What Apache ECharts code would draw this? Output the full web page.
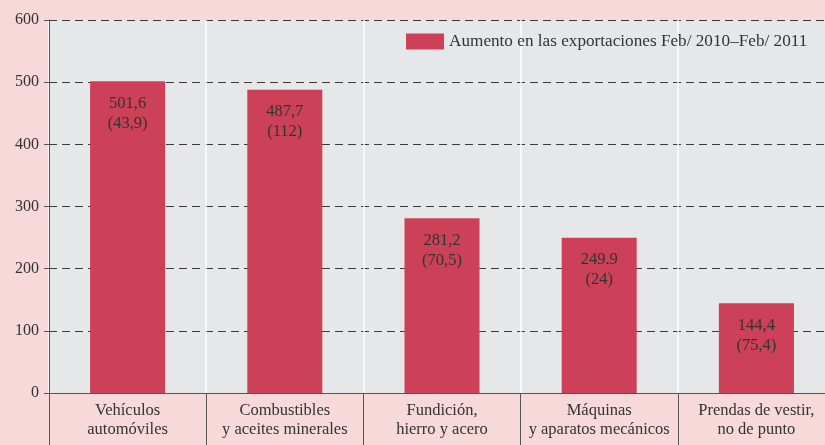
<!DOCTYPE html>
<html>
<head>
<meta charset="utf-8">
<script src="https://cdn.jsdelivr.net/npm/echarts@6/dist/echarts.min.js"></script>
<style>
html,body{margin:0;padding:0;background:#f6d9d8;}
#c{width:825px;height:445px;}
</style>
</head>
<body>
<div id="c"></div>
<script>
const categories = ['Vehículos\nautomóviles', 'Combustibles\ny aceites minerales', 'Fundición,\nhierro y acero', 'Máquinas\ny aparatos mecánicos', 'Prendas de vestir,\nno de punto'];
const values = [501.6, 487.7, 281.2, 249.9, 144.4];
const valueLabels = ['501,6', '487,7', '281,2', '249.9', '144,4'];
const pctLabels = ['(43,9)', '(112)', '(70,5)', '(24)', '(75,4)'];
const seriesName = 'Aumento en las exportaciones Feb/ 2010–Feb/ 2011';
const yTicks = [0, 100, 200, 300, 400, 500, 600];

const font = 'Liberation Serif';
const chart = echarts.init(document.getElementById('c'));
chart.setOption({
  backgroundColor: '#f6d9d8',
  animation: false,
  textStyle: {fontFamily: font},
  grid: {left: 49, right: -10, top: 20, bottom: 52, outerBoundsMode: 'none', containLabel: false, show: true, backgroundColor: '#e6e7e9', borderWidth: 0},
  legend: {
    show: true, left: 406, top: 33, padding: 0, itemWidth: 38, itemHeight: 16, itemGap: 5, icon: 'rect',
    textStyle: {fontFamily: font, fontSize: 17.2, color: '#333'},
    data: [seriesName]
  },
  xAxis: {
    type: 'category', data: categories, boundaryGap: true,
    axisLine: {show: true, lineStyle: {color: '#555', width: 1}},
    axisTick: {show: true, length: 52, lineStyle: {color: '#555', width: 1}},
    splitLine: {show: true, lineStyle: {color: '#ffffff', width: 1.5}},
    axisLabel: {fontFamily: font, fontSize: 16.5, color: '#333', lineHeight: 19, margin: 8, interval: 0}
  },
  yAxis: {
    type: 'value', min: yTicks[0], max: yTicks[yTicks.length - 1], interval: 100,
    axisLine: {show: true, lineStyle: {color: '#555', width: 1}},
    axisTick: {show: true, length: 5, lineStyle: {color: '#555'}},
    splitLine: {show: true, lineStyle: {color: '#3a3a3a', type: [8, 5], width: 1}},
    axisLabel: {fontFamily: font, fontSize: 16, color: '#333', margin: 10}
  },
  series: [{
    name: seriesName, type: 'bar', barWidth: 75,
    itemStyle: {color: '#cc4157'},
    z: 3,
    data: values,
    label: {
      show: true, position: 'insideTop', distance: 12,
      fontFamily: font, fontSize: 16.5, color: '#333', lineHeight: 20,
      formatter: p => valueLabels[p.dataIndex] + '\n' + pctLabels[p.dataIndex]
    }
  }]
});
</script>
</body>
</html>
